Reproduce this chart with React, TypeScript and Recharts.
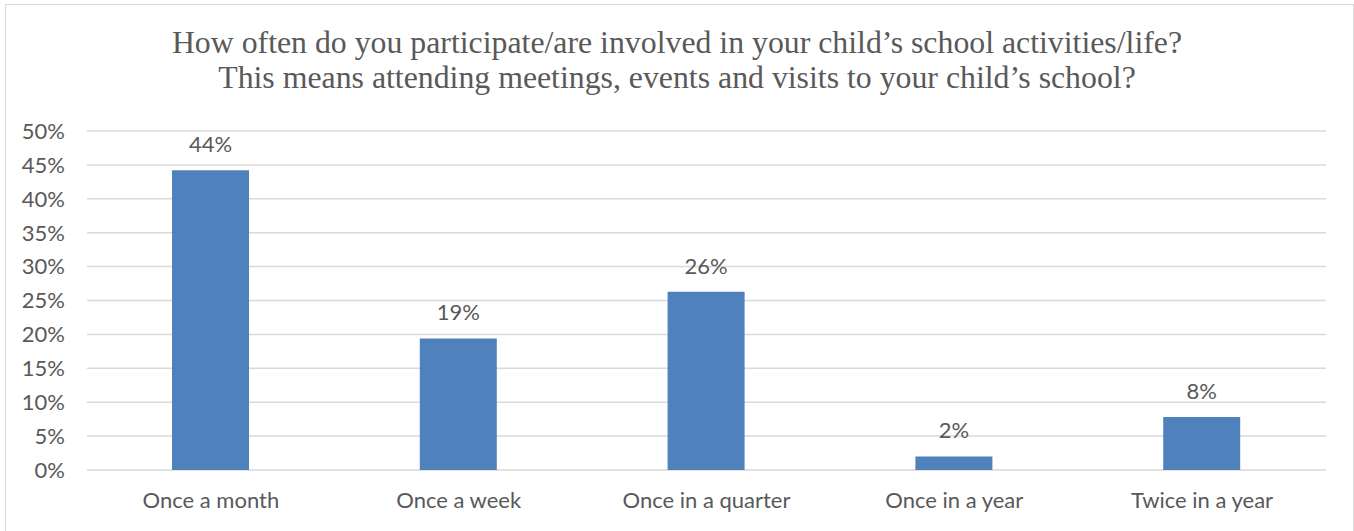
import { BarChart, Bar, XAxis, YAxis, CartesianGrid, LabelList } from "recharts";

const categories = [
  "Once a month",
  "Once a week",
  "Once in a quarter",
  "Once in a year",
  "Twice in a year",
];
const shares = [44.2, 19.4, 26.3, 2.0, 7.8];
const yTicks = [0, 5, 10, 15, 20, 25, 30, 35, 40, 45, 50];
const titleLines = [
  "How often do you participate/are involved in your child\u2019s school activities/life?",
  "This means attending meetings, events and visits to your child\u2019s school?",
];

const data = categories.map((name, i) => ({ name, value: shares[i] }));

const textColor = "#595959";
const tickFont = "Lato, 'Open Sans', sans-serif";

export default function App() {
  return (
    <div
      style={{
        position: "absolute",
        left: 0,
        top: 0,
        width: 1354,
        height: 531,
        overflow: "hidden",
        background: "#fff",
      }}
    >
      <div
        style={{
          position: "absolute",
          left: 5,
          top: 4,
          width: 1347,
          height: 600,
          border: "1px solid #d9d9d9",
        }}
      />
      {titleLines.map((line, i) => (
        <div
          key={i}
          style={{
            position: "absolute",
            left: 0,
            top: 25 + i * 35,
            width: 1354,
            textAlign: "center",
            fontFamily: "'Liberation Serif', 'Times New Roman', serif",
            fontSize: 31.8,
            lineHeight: "35px",
            color: textColor,
            whiteSpace: "nowrap",
          }}
        >
          {line}
        </div>
      ))}
      <div style={{ position: "absolute", left: 0, top: 0 }}>
        <BarChart
          width={1354}
          height={531}
          data={data}
          margin={{ top: 131, right: 28, left: 0, bottom: 31 }}
          barSize={77}
        >
          <CartesianGrid vertical={false} stroke="#d9d9d9" strokeWidth={1.5} />
          <XAxis
            dataKey="name"
            axisLine={false}
            tickLine={false}
            tickMargin={16}
            interval={0}
            tick={{ fill: textColor, fontSize: 22, fontFamily: tickFont }}
          />
          <YAxis
            width={87}
            domain={[0, 50]}
            ticks={yTicks}
            axisLine={false}
            tickLine={false}
            tickMargin={16}
            tickFormatter={(v: number) => `${v}%`}
            tick={{ fill: textColor, fontSize: 22, fontFamily: tickFont }}
          />
          <Bar dataKey="value" fill="#4f81bd" isAnimationActive={false}>
            <LabelList
              dataKey="value"
              position="top"
              offset={18}
              formatter={(v: any) => `${Math.round(Number(v))}%`}
              style={{ fill: textColor, fontSize: 22, fontFamily: tickFont }}
            />
          </Bar>
        </BarChart>
      </div>
    </div>
  );
}
